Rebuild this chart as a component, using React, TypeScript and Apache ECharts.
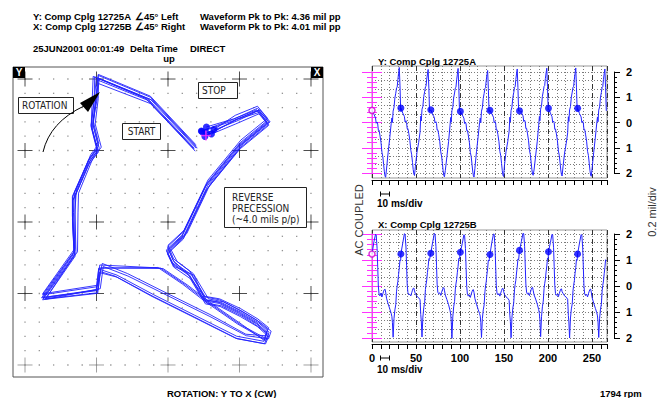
import React, { useEffect, useRef } from 'react';
import * as echarts from 'echarts';

// ---- time base of one revolution (ms after the keyphasor) ----
const tauMs = [0, 2.2, 4.0, 4.8, 5.8, 6.5, 7.2, 8.0, 9.0, 10.2, 11.3, 12.3, 13.2, 14.0, 14.8, 15.5, 16.5, 18.3, 20.2, 21.8, 22.6, 23.2, 24.0, 25.0, 26.0, 27.0, 27.9, 28.6, 29.4, 30.2, 31.0, 31.8, 32.6];
// keyphasor (once-per-turn) times, ms
const keyphasorMs = [0, 32.8, 66.8, 100.4, 134, 167.6, 200.5, 233.6];

// ---- Y probe (Comp Cplg 12725A), mil, one array per revolution ----
const yRev0 = [0.48, 0.33, 0.18, -0.03, 0.02, -0.06, -0.31, -0.30, -0.50, -0.78, -1.18, -1.36, -1.66, -1.93, -2.12, -2.17, -1.84, -1.20, -0.60, -0.04, 0.18, 0.00, 0.45, 0.60, 0.97, 1.16, 1.37, 1.40, 1.70, 1.95, 2.18, 1.45, 0.48];
const yRev1 = [0.57, 0.37, 0.24, 0.02, 0.07, 0.00, -0.25, -0.24, -0.43, -0.71, -1.10, -1.28, -1.58, -1.86, -2.05, -2.10, -1.73, -1.18, -0.79, -0.38, 0.25, 0.06, 0.52, 0.64, 1.03, 1.22, 1.41, 1.44, 1.72, 1.92, 2.10, 1.36, 0.44];
const yRev2 = [0.50, 0.31, 0.20, -0.02, 0.03, -0.04, -0.30, -0.29, -0.48, -0.76, -1.16, -1.34, -1.63, -1.91, -2.10, -2.15, -1.90, -1.35, -0.76, -0.14, 0.20, 0.01, 0.47, 0.60, 0.98, 1.17, 1.37, 1.40, 1.69, 1.91, 2.14, 1.41, 0.47];
const yRev3 = [0.44, 0.30, 0.17, -0.04, 0.01, -0.06, -0.32, -0.31, -0.50, -0.78, -1.18, -1.35, -1.65, -1.92, -2.11, -2.16, -1.82, -1.16, -0.56, -0.01, 0.18, -0.01, 0.45, 0.58, 0.96, 1.15, 1.35, 1.38, 1.67, 1.89, 2.06, 1.34, 0.43];
const yRev4 = [0.48, 0.34, 0.21, -0.01, 0.04, -0.03, -0.29, -0.28, -0.47, -0.75, -1.15, -1.32, -1.62, -1.90, -2.09, -2.14, -1.70, -1.15, -0.76, -0.35, 0.21, 0.02, 0.48, 0.61, 0.99, 1.18, 1.38, 1.41, 1.70, 1.92, 2.12, 1.38, 0.45];
const yRev5 = [0.46, 0.39, 0.26, 0.04, 0.09, 0.02, -0.24, -0.23, -0.42, -0.70, -1.10, -1.27, -1.57, -1.85, -2.04, -2.09, -1.88, -1.33, -0.74, -0.11, 0.24, 0.07, 0.53, 0.66, 1.04, 1.23, 1.43, 1.46, 1.74, 1.96, 2.15, 1.42, 0.49];
const yRev6 = [0.56, 0.37, 0.23, 0.01, 0.06, -0.01, -0.27, -0.26, -0.45, -0.73, -1.13, -1.30, -1.60, -1.88, -2.07, -2.12, -1.76, -1.21, -0.82, -0.41, 0.23, 0.04, 0.50, 0.63, 1.01, 1.20, 1.40, 1.43, 1.72, 1.94, 2.16, 1.40, 0.47];
const yRev7 = [0.56, 0.35, 0.22, 0.00, 0.05, -0.02, -0.28, -0.27, -0.46, -0.74, -1.14, -1.31, -1.61, -1.89, -2.08, -2.13, -1.81, -1.18, -0.58, -0.02, 0.22, 0.03, 0.49, 0.62, 1.00, 1.19, 1.39, 1.42, 1.71, 1.93, 2.12, 1.39, 0.46];

// ---- X probe (Comp Cplg 12725B), mil, one array per revolution ----
const xRev0 = [1.23, 1.70, 1.99, 1.96, 1.45, 0.72, 0.00, -0.31, -0.38, -0.27, -0.42, -0.30, -0.20, -0.14, -0.12, -0.24, -0.47, -0.68, -0.88, -1.05, -1.18, -1.40, -1.97, -1.25, -0.92, -0.72, -0.20, 0.00, 0.18, 0.45, 0.70, 1.00, 0.98];
const xRev1 = [1.23, 1.66, 2.01, 1.99, 1.50, 0.78, 0.05, -0.25, -0.33, -0.32, -0.38, -0.26, -0.16, -0.09, -0.08, -0.19, -0.30, -0.40, -0.45, -0.53, -1.10, -1.34, -1.96, -1.20, -0.84, -0.63, -0.13, 0.06, 0.23, 0.52, 0.74, 1.05, 1.02];
const xRev2 = [1.26, 1.70, 2.02, 2.00, 1.52, 0.80, 0.07, -0.24, -0.30, -0.26, -0.36, -0.24, -0.15, -0.08, -0.06, -0.16, -0.35, -0.52, -0.72, -0.93, -1.08, -1.33, -2.01, -1.19, -0.80, -0.60, -0.12, 0.08, 0.25, 0.53, 0.76, 1.06, 1.03];
const xRev3 = [1.30, 1.64, 1.97, 1.95, 1.44, 0.70, -0.02, -0.32, -0.39, -0.34, -0.44, -0.32, -0.22, -0.15, -0.14, -0.25, -0.48, -0.70, -0.90, -1.06, -1.16, -1.40, -1.98, -1.26, -0.92, -0.73, -0.22, 0.00, 0.17, 0.45, 0.68, 1.00, 0.97];
const xRev4 = [1.21, 1.69, 2.00, 1.99, 1.49, 0.76, 0.03, -0.27, -0.34, -0.29, -0.39, -0.27, -0.17, -0.10, -0.09, -0.20, -0.32, -0.42, -0.47, -0.55, -1.12, -1.36, -1.99, -1.21, -0.85, -0.65, -0.15, 0.05, 0.22, 0.50, 0.73, 1.04, 1.01];
const xRev5 = [1.37, 1.72, 2.03, 2.01, 1.53, 0.81, 0.08, -0.23, -0.31, -0.27, -0.37, -0.25, -0.14, -0.07, -0.05, -0.16, -0.34, -0.50, -0.70, -0.91, -1.06, -1.32, -1.95, -1.18, -0.80, -0.58, -0.10, 0.09, 0.26, 0.54, 0.77, 1.07, 1.04];
const xRev6 = [1.32, 1.67, 1.99, 1.97, 1.47, 0.74, 0.01, -0.29, -0.36, -0.31, -0.41, -0.29, -0.19, -0.12, -0.11, -0.22, -0.28, -0.38, -0.43, -0.51, -1.14, -1.38, -2.00, -1.23, -0.88, -0.69, -0.17, 0.03, 0.20, 0.48, 0.71, 1.02, 0.99];
const xRev7 = [1.23, 1.66, 1.98, 1.96, 1.46, 0.73, 0.00, -0.30, -0.37, -0.32, -0.42, -0.30, -0.20, -0.13, -0.12, -0.23, -0.45, -0.66, -0.86, -1.03, -1.15, -1.39, -1.98, -1.24, -0.89, -0.70, -0.18, 0.02, 0.19, 0.47, 0.70, 1.01, 0.98];

const yRevs = [yRev0, yRev1, yRev2, yRev3, yRev4, yRev5, yRev6, yRev7];
const xRevs = [xRev0, xRev1, xRev2, xRev3, xRev4, xRev5, xRev6, xRev7];

// probe mounting angles (degrees from the +x screen axis): Y 45° left, X 45° right of vertical
const yProbeAngleDeg = 135;
const xProbeAngleDeg = 45;

// ticks
const orbitMajorTicks = [-2, -1, 0, 1, 2];
const orbitSubdivisions = 5;
const timeLabelTicks = [0, 50, 100, 150, 200, 250];

const FONT = '"Liberation Sans", Arial, Helvetica, sans-serif';
const NARROW = '"Liberation Sans Narrow", "DejaVu Sans Condensed", "Liberation Sans", sans-serif';
const BLUE = '#2323ff';
const MAGENTA = '#ff33ff';
const HEAD = 'bold 9.5px ' + FONT;

function txt(x: number, y: number, text: string, font: string, extra: any = {}) {
  return {
    type: 'text', x, y, z: 100, silent: true,
    style: { text, font, fill: '#000', textAlign: 'left', align: 'left', textVerticalAlign: 'middle', verticalAlign: 'middle', ...extra },
  };
}
function labelBox(x: number, y: number, w: number, h: number) {
  return { type: 'rect', z: 99, silent: true, shape: { x, y, width: w, height: h }, style: { fill: '#fff', stroke: '#222', lineWidth: 1 } };
}
function ln(x1: number, y1: number, x2: number, y2: number, color = '#000') {
  return { type: 'line', z: 100, silent: true, shape: { x1, y1, x2, y2 }, style: { stroke: color, lineWidth: 1 } };
}

export default function App() {
  const ref = useRef<HTMLDivElement>(null);
  useEffect(() => {
    const chart = echarts.init(ref.current!, null, { renderer: 'svg' });
    const ca = Math.PI / 180;
    const toOrbit = (x: number, y: number) => [
      x * Math.cos(xProbeAngleDeg * ca) + y * Math.cos(yProbeAngleDeg * ca),
      x * Math.sin(xProbeAngleDeg * ca) + y * Math.sin(yProbeAngleDeg * ca),
    ];

    // orbit decorations
    const dotTicks: number[] = [];
    for (let i = 0; i < orbitMajorTicks.length - 1; i++) {
      for (let k = 0; k < orbitSubdivisions; k++) {
        dotTicks.push(orbitMajorTicks[i] + (k * (orbitMajorTicks[i + 1] - orbitMajorTicks[i])) / orbitSubdivisions);
      }
    }
    dotTicks.push(orbitMajorTicks[orbitMajorTicks.length - 1]);
    const dots: number[][] = [];
    dotTicks.forEach((a) => dotTicks.forEach((b) => dots.push([a, b])));
    const crosses: any[] = [];
    orbitMajorTicks.forEach((a) =>
      orbitMajorTicks.forEach((b) =>
        crosses.push({ value: [a, b], itemStyle: { color: b === orbitMajorTicks[0] ? '#888' : '#222' } })
      )
    );

    const orbitSeries = yRevs.map((yr, r) => ({
      type: 'line', xAxisIndex: 0, yAxisIndex: 0, showSymbol: false, silent: true, z: 3,
      lineStyle: { color: BLUE, width: 0.9 },
      data: yr.map((yv, i) => toOrbit(xRevs[r][i], yv)),
    }));
    const orbitKey = yRevs.slice(1).map((yr, r) => toOrbit(xRevs[r + 1][0], yr[0]));
    const orbitKey0 = toOrbit(xRevs[0][0], yRevs[0][0]);

    const waveY: number[][] = [];
    const waveX: number[][] = [];
    keyphasorMs.forEach((t0, r) => {
      tauMs.forEach((tau, i) => {
        waveY.push([t0 + tau, yRevs[r][i]]);
        waveX.push([t0 + tau, xRevs[r][i]]);
      });
    });
    const keyY = keyphasorMs.slice(1).map((t, r) => [t, yRevs[r + 1][0]]);
    const keyX = keyphasorMs.slice(1).map((t, r) => [t, xRevs[r + 1][0]]);

    const dotted = { show: true, lineStyle: { color: '#7a7a7a', type: [1, 2] as any, width: 1 } };
    const dashed = { show: true, lineStyle: { color: '#333', type: [5, 4] as any, width: 1 } };
    const tMax = 267;

    const timeAxes = (grid: number, labels: boolean) => [
      {
        gridIndex: grid, type: 'value', min: 0, max: tMax, interval: 10, position: 'bottom', offset: 2,
        axisLine: { show: true, onZero: false, lineStyle: { color: '#000' } },
        axisTick: { show: true, length: 5, lineStyle: { color: '#000' } },
        axisLabel: { show: false }, splitLine: dotted,
      },
      {
        gridIndex: grid, type: 'value', min: 0, max: tMax, interval: 50, position: 'bottom', offset: 2,
        axisLine: { show: false, onZero: false }, axisTick: { show: false },
        axisLabel: labels
          ? { show: true, showMaxLabel: false, margin: 8, color: '#000', fontSize: 11, fontWeight: 'bold', fontFamily: FONT,
              formatter: (v: number) => (timeLabelTicks.includes(v) ? String(v) : '') }
          : { show: false },
        splitLine: dashed,
      },
    ];
    const ampAxes = (grid: number) => [
      {
        gridIndex: grid, type: 'value', min: -2, max: 2, interval: 1 / 3,
        axisLine: { show: false }, axisTick: { show: false }, axisLabel: { show: false }, splitLine: dotted,
      },
      {
        gridIndex: grid, type: 'value', min: -2, max: 2, interval: 1, position: 'right', offset: 7,
        axisLine: { show: true, onZero: false, lineStyle: { color: '#000' } },
        axisTick: { show: true, length: 6, lineStyle: { color: '#000' } },
        minorTick: { show: true, splitNumber: 5, length: 3, lineStyle: { color: '#000' } },
        axisLabel: { show: true, margin: 12, color: '#000', fontSize: 11, fontWeight: 'bold', fontFamily: FONT,
          formatter: (v: number) => String(Math.abs(Math.round(v))) },
        splitLine: { show: false },
      },
      {
        gridIndex: grid, type: 'value', min: -2, max: 2, interval: 1, position: 'left', offset: 0,
        axisLine: { show: true, onZero: false, lineStyle: { color: MAGENTA } },
        axisTick: { show: true, length: 10, lineStyle: { color: MAGENTA } },
        minorTick: { show: true, splitNumber: 5, length: 5, lineStyle: { color: MAGENTA } },
        axisLabel: { show: false }, splitLine: { show: false },
      },
      {
        gridIndex: grid, type: 'value', min: -2, max: 2, interval: 1, position: 'left', offset: 0,
        axisLine: { show: false, onZero: false },
        axisTick: { show: true, inside: true, length: 10, lineStyle: { color: MAGENTA } },
        minorTick: { show: true, splitNumber: 5, length: 5, lineStyle: { color: MAGENTA } },
        axisLabel: { show: false }, splitLine: { show: false },
      },
    ];

    const waveSeries = (xi: number, yi: number, data: number[][], keys: number[][], first: number[]) => [
      { type: 'line', xAxisIndex: xi, yAxisIndex: yi, data, showSymbol: false, clip: false, silent: true, z: 3,
        lineStyle: { color: BLUE, width: 1 } },
      { type: 'scatter', xAxisIndex: xi, yAxisIndex: yi, data: keys, symbolSize: 7, silent: true, z: 4,
        itemStyle: { color: '#0000ff' } },
      { type: 'scatter', xAxisIndex: xi, yAxisIndex: yi, data: [first], symbolSize: 6, silent: true, z: 5,
        itemStyle: { color: '#fff', borderColor: '#d000d0', borderWidth: 1.5 } },
    ];

    const option: any = {
      animation: false,
      backgroundColor: '#fff',
      grid: [
        { left: 13, top: 67, width: 310, height: 310, show: true, borderColor: '#555', borderWidth: 1 },
        { left: 372, top: 66, width: 235, height: 112, show: true, borderColor: '#999', borderWidth: 1 },
        { left: 372, top: 72, width: 235, height: 101 },
        { left: 372, top: 230, width: 235, height: 112, show: true, borderColor: '#999', borderWidth: 1 },
        { left: 372, top: 234, width: 235, height: 104 },
      ],
      xAxis: [
        { gridIndex: 0, type: 'value', min: -2.168, max: 2.168, show: false },
        ...timeAxes(1, false),
        { gridIndex: 2, type: 'value', min: 0, max: tMax, show: false },
        ...timeAxes(3, true),
        { gridIndex: 4, type: 'value', min: 0, max: tMax, show: false },
      ],
      yAxis: [
        { gridIndex: 0, type: 'value', min: -2.168, max: 2.168, show: false },
        { gridIndex: 1, type: 'value', min: 0, max: 1, show: false },
        ...ampAxes(2),
        { gridIndex: 3, type: 'value', min: 0, max: 1, show: false },
        ...ampAxes(4),
      ],
      series: [
        { type: 'scatter', xAxisIndex: 0, yAxisIndex: 0, data: dots, symbol: 'rect', symbolSize: 1.3, silent: true, z: 1,
          itemStyle: { color: '#777' } },
        { type: 'scatter', xAxisIndex: 0, yAxisIndex: 0, data: crosses, symbol: 'rect', symbolSize: [15, 1], silent: true, z: 2 },
        { type: 'scatter', xAxisIndex: 0, yAxisIndex: 0, data: crosses, symbol: 'rect', symbolSize: [1, 15], silent: true, z: 2 },
        ...orbitSeries,
        { type: 'scatter', xAxisIndex: 0, yAxisIndex: 0, data: orbitKey, symbolSize: 7, silent: true, z: 4,
          itemStyle: { color: '#0000ff' } },
        { type: 'scatter', xAxisIndex: 0, yAxisIndex: 0, data: [orbitKey0], symbol: 'rect', symbolSize: [10, 1.5], silent: true, z: 5,
          itemStyle: { color: MAGENTA } },
        { type: 'scatter', xAxisIndex: 0, yAxisIndex: 0, data: [orbitKey0], symbol: 'rect', symbolSize: [1.5, 10], silent: true, z: 5,
          itemStyle: { color: MAGENTA } },
        ...waveSeries(3, 2, waveY, keyY, [keyphasorMs[0], yRevs[0][0]]),
        ...waveSeries(6, 7, waveX, keyX, [keyphasorMs[0], xRevs[0][0]]),
      ],
      graphic: [
        txt(33, 16, 'Y: Comp Cplg 12725A', HEAD),
        txt(135, 16, '∠45° Left', HEAD),
        txt(200, 16, 'Waveform Pk to Pk: 4.36 mil pp', HEAD),
        txt(33, 26, 'X: Comp Cplg 12725B', HEAD),
        txt(135, 26, '∠45° Right', HEAD),
        txt(200, 26, 'Waveform Pk to Pk: 4.01 mil pp', HEAD),
        txt(33, 48.5, '25JUN2001 00:01:49', HEAD),
        txt(130, 48.5, 'Delta Time', HEAD),
        txt(190, 48.5, 'DIRECT', HEAD),
        txt(169, 58.5, 'up', HEAD, { textAlign: 'center', align: 'center' }),
        // orbit corner tags
        { type: 'rect', z: 99, silent: true, shape: { x: 13, y: 67, width: 12, height: 11 }, style: { fill: '#000' } },
        txt(19, 72.5, 'Y', 'bold 10px ' + FONT, { fill: '#fff', textAlign: 'center', align: 'center' }),
        { type: 'rect', z: 99, silent: true, shape: { x: 311, y: 67, width: 12, height: 11 }, style: { fill: '#000' } },
        txt(317, 72.5, 'X', 'bold 10px ' + FONT, { fill: '#fff', textAlign: 'center', align: 'center' }),
        // annotation boxes
        labelBox(18.5, 97.5, 55, 16),
        txt(22, 105.5, 'ROTATION', '10px ' + NARROW, { fill: '#222' }),
        labelBox(122.5, 123.5, 38, 16),
        txt(141.5, 131.5, 'START', '10px ' + NARROW, { fill: '#222', textAlign: 'center', align: 'center' }),
        labelBox(198.5, 82.5, 39, 16),
        txt(202, 90.5, 'STOP', '10px ' + NARROW, { fill: '#222' }),
        labelBox(224.5, 187.5, 82, 40),
        txt(232, 197, 'REVERSE', '10px ' + NARROW, { fill: '#222' }),
        txt(232, 208, 'PRECESSION', '10px ' + NARROW, { fill: '#222' }),
        txt(232, 219, '(~4.0 mils p/p)', '10px ' + NARROW, { fill: '#222' }),
        // rotation arrow
        { type: 'bezierCurve', z: 100, silent: true, shape: { x1: 43, y1: 152, cpx1: 50, cpy1: 122, x2: 84, y2: 106 },
          style: { stroke: '#000', lineWidth: 1, fill: 'none' } },
        { type: 'polygon', z: 100, silent: true, shape: { points: [[100, 92], [80, 103], [88, 112]] }, style: { fill: '#000' } },
        // waveform titles and scale bars
        txt(378, 61, 'Y: Comp Cplg 12725A', HEAD),
        txt(378, 224, 'X: Comp Cplg 12725B', HEAD),
        ln(380.5, 194, 389.5, 194), ln(380.5, 191.5, 380.5, 196.5), ln(389.5, 191.5, 389.5, 196.5),
        txt(377, 203.5, '10 ms/div', 'bold 10px ' + FONT),
        ln(380.5, 358, 389.5, 358), ln(380.5, 355.5, 380.5, 360.5), ln(389.5, 355.5, 389.5, 360.5),
        txt(377, 369.5, '10 ms/div', 'bold 10px ' + FONT),
        { type: 'text', x: 359, y: 220, rotation: Math.PI / 2, z: 100, silent: true,
          style: { text: 'AC COUPLED', font: '11px ' + FONT, fill: '#333', textAlign: 'center', align: 'center', textVerticalAlign: 'middle', verticalAlign: 'middle' } },
        { type: 'text', x: 652, y: 212, rotation: Math.PI / 2, z: 100, silent: true,
          style: { text: '0.2 mil/div', font: '11px ' + FONT, fill: '#333', textAlign: 'center', align: 'center', textVerticalAlign: 'middle', verticalAlign: 'middle' } },
        txt(167, 393, 'ROTATION: Y TO X (CW)', 'bold 9.5px ' + FONT),
        txt(600, 393, '1794 rpm', 'bold 9.5px ' + FONT),
      ],
    };
    chart.setOption(option);
    return () => chart.dispose();
  }, []);
  return <div ref={ref} style={{ position: 'absolute', left: 0, top: 0, width: 664, height: 398 }} />;
}
